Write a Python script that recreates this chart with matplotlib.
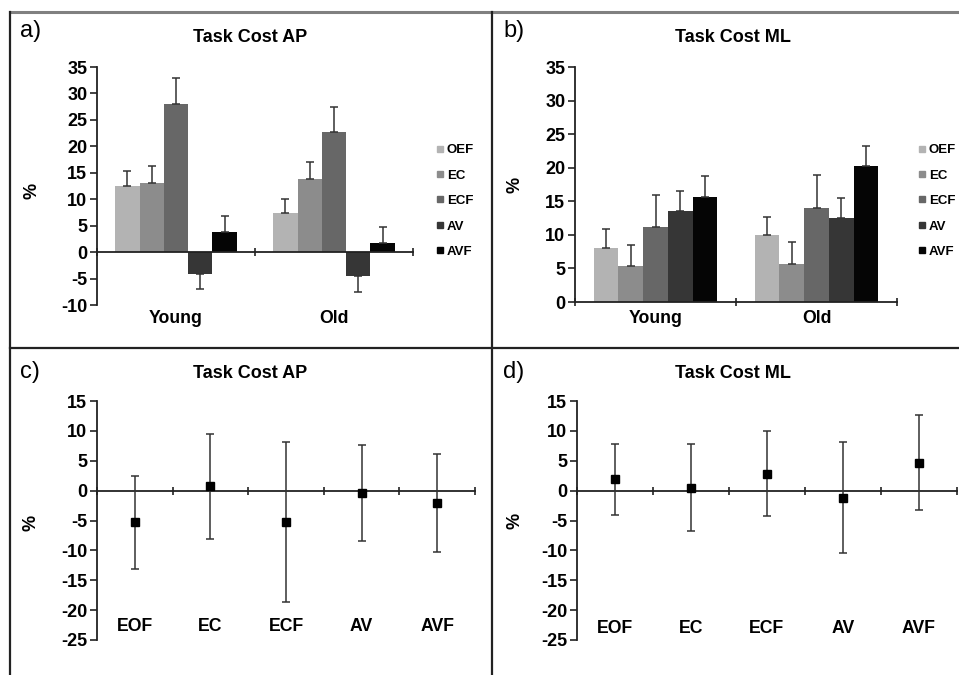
import numpy as np
import matplotlib
matplotlib.use('Agg')
import matplotlib.pyplot as plt
from matplotlib.lines import Line2D

plt.rcParams['font.family'] = ['Liberation Sans', 'DejaVu Sans']
plt.rcParams['axes.unicode_minus'] = False

# Datos
grupos = ['Young', 'Old']
series = ['OEF', 'EC', 'ECF', 'AV', 'AVF']
colores = ['#b3b3b3', '#8c8c8c', '#676767', '#363636', '#050505']

# Task Cost AP (barras): valores y extremo de la barra de error
ap_young = [12.5, 13.1, 28.0, -4.2, 3.8]
ap_young_err = [2.8, 3.2, 4.9, 2.8, 3.1]
ap_old = [7.4, 13.9, 22.7, -4.6, 1.8]
ap_old_err = [2.7, 3.2, 4.8, 2.9, 3.0]

# Task Cost ML (barras)
ml_young = [8.0, 5.3, 11.1, 13.6, 15.6]
ml_young_err = [2.8, 3.2, 4.9, 3.0, 3.1]
ml_old = [9.95, 5.7, 14.0, 12.5, 20.3]
ml_old_err = [2.75, 3.3, 4.9, 3.0, 3.0]

# Diferencias (puntos con barras de error)
condiciones = ['EOF', 'EC', 'ECF', 'AV', 'AVF']
dif_ap = [-5.3, 0.7, -5.3, -0.4, -2.0]
dif_ap_err = [7.8, 8.8, 13.4, 8.1, 8.2]
dif_ml = [1.9, 0.5, 2.8, -1.2, 4.7]
dif_ml_err = [5.9, 7.3, 7.1, 9.3, 8.0]

W, H = 959, 675
fig = plt.figure(figsize=(W / 100, H / 100), dpi=100)


def caja(x0, y_top, x1, y_bot):
    return [x0 / W, 1 - y_bot / H, (x1 - x0) / W, (y_bot - y_top) / H]


def ejes_base(ax, ymin, ymax, paso, ncat):
    ax.set_ylim(ymin, ymax)
    ax.set_xlim(0, ncat)
    for s in ['top', 'right']:
        ax.spines[s].set_visible(False)
    ax.spines['bottom'].set_position(('data', 0))
    for s in ['left', 'bottom']:
        ax.spines[s].set_linewidth(1.3)
        ax.spines[s].set_color('#222222')
    ax.set_yticks(np.arange(ymin, ymax + 1, paso))
    ax.set_xticks(np.arange(0, ncat + 1))
    ax.set_xticklabels([])
    ax.tick_params(axis='y', direction='out', length=5, width=1.2,
                   color='#222222', labelsize=13, pad=2)
    ax.tick_params(axis='x', direction='inout', length=6, width=1.2,
                   color='#222222')
    for t in ax.get_yticklabels():
        t.set_fontweight('bold')
    ax.patch.set_alpha(0)


def barras(ax, young, young_err, old, old_err, ylabel_y):
    ancho = 0.154
    for j in range(5):
        xs = np.array([0.5, 1.5]) + (j - 2) * ancho
        vals = np.array([young[j], old[j]])
        errs = np.array([young_err[j], old_err[j]])
        ax.bar(xs, vals, width=ancho, color=colores[j], label=series[j],
               zorder=2)
        lower = np.where(vals < 0, errs, 0)
        upper = np.where(vals >= 0, errs, 0)
        ax.errorbar(xs, vals, yerr=[lower, upper], fmt='none',
                    ecolor='#333333', elinewidth=1.1, capsize=3,
                    capthick=1.1, zorder=3)
    for i, g in enumerate(grupos):
        ax.text(i + 0.5, ylabel_y, g, ha='center', va='center',
                fontsize=12.7, fontweight='bold', clip_on=False)


def puntos(ax, vals, errs, ylabel_y):
    xs = np.arange(5) + 0.5
    ax.errorbar(xs, vals, yerr=errs, fmt='s', color='black', markersize=6,
                ecolor='#333333', elinewidth=1.1, capsize=3, capthick=1.1,
                zorder=3)
    for x, c in zip(xs, condiciones):
        ax.text(x, ylabel_y, c, ha='center', va='center', fontsize=12.7,
                fontweight='bold')


# a) Task Cost AP
ax_a = fig.add_axes(caja(97, 67, 413, 305))
ejes_base(ax_a, -10, 35, 5, 2)
barras(ax_a, ap_young, ap_young_err, ap_old, ap_old_err, -12.5)
ax_a.set_ylabel('%', fontsize=13, fontweight='bold')
ax_a.yaxis.set_label_coords(-0.18, 0.48)

# b) Task Cost ML
ax_b = fig.add_axes(caja(575, 67, 897, 302))
ejes_base(ax_b, 0, 35, 5, 2)
barras(ax_b, ml_young, ml_young_err, ml_old, ml_old_err, -2.4)
ax_b.set_ylabel('%', fontsize=13, fontweight='bold')
ax_b.yaxis.set_label_coords(-0.16, 0.5)

# c) Task Cost AP (diferencias)
ax_c = fig.add_axes(caja(97, 401, 475, 640))
ejes_base(ax_c, -25, 15, 5, 5)
puntos(ax_c, dif_ap, dif_ap_err, -22.8)
ax_c.set_ylabel('%', fontsize=13, fontweight='bold')
ax_c.yaxis.set_label_coords(-0.153, 0.49)

# d) Task Cost ML (diferencias)
ax_d = fig.add_axes(caja(577, 401, 957, 640))
ejes_base(ax_d, -25, 15, 5, 5)
puntos(ax_d, dif_ml, dif_ml_err, -23.0)
ax_d.set_ylabel('%', fontsize=13, fontweight='bold')
ax_d.yaxis.set_label_coords(-0.14, 0.5)

# Leyendas
handles = [Line2D([], [], marker='s', linestyle='none', markersize=4.5,
                  color=c) for c in colores]
for x_leg in [437, 919]:
    fig.legend(handles, series, loc='upper left',
               bbox_to_anchor=(x_leg / W, 1 - 144 / H), frameon=False,
               prop={'weight': 'bold', 'size': 9.5},
               handlelength=0.5, handletextpad=0.25, labelspacing=1.0,
               borderpad=0, borderaxespad=0)

# Titulos y letras de panel
titulos = [('Task Cost AP', 250, 37), ('Task Cost ML', 733, 37),
           ('Task Cost AP', 250, 373), ('Task Cost ML', 733, 373)]
for t, x, y in titulos:
    fig.text(x / W, 1 - y / H, t, ha='center', va='center', fontsize=13,
             fontweight='bold')
letras = [('a)', 20, 31), ('b)', 503, 31), ('c)', 20, 372), ('d)', 503, 372)]
for t, x, y in letras:
    fig.text(x / W, 1 - y / H, t, ha='left', va='center', fontsize=17)

# Marco
fig.add_artist(Line2D([10 / W, 1], [1 - 12 / H, 1 - 12 / H], color='#808080',
                      linewidth=2.2))
fig.add_artist(Line2D([10 / W, 10 / W], [0, 1 - 12 / H], color='#222222',
                      linewidth=1.6))
fig.add_artist(Line2D([492 / W, 492 / W], [0, 1 - 12 / H], color='#222222',
                      linewidth=1.6))
fig.add_artist(Line2D([10 / W, 1], [1 - 348 / H, 1 - 348 / H],
                      color='#222222', linewidth=1.6))

fig.savefig('out.png', dpi=100)
